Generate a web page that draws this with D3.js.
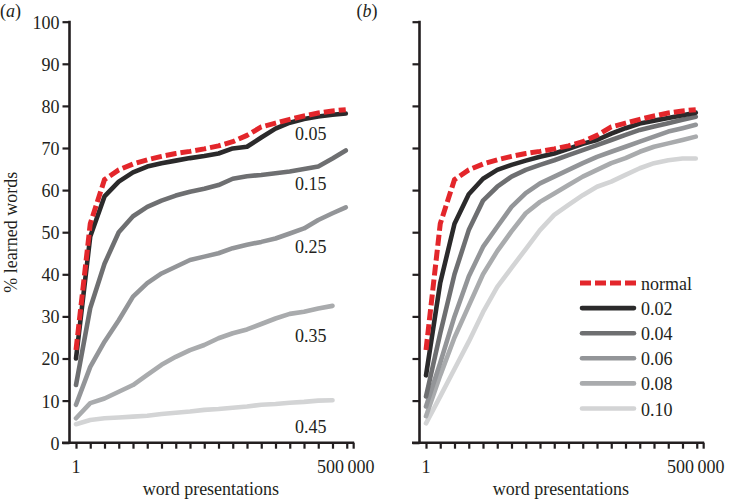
<!DOCTYPE html>
<html>
<head>
<meta charset="utf-8">
<script src="https://cdn.jsdelivr.net/npm/d3@7"></script>
<style>
  html, body { margin: 0; padding: 0; background: #fff; }
  svg { display: block; }
  svg text { font-family: "Times New Roman", "Liberation Serif", Tinos, "DejaVu Serif", "Noto Serif", serif !important; fill: #231f20; }
</style>
</head>
<body>
<svg id="chart" width="735" height="500"></svg>
<script>
// ---------------- DATA ----------------
const presentations = [1, 2, 4, 8, 16, 32, 64, 128, 256, 512, 1024, 2048, 4096, 8192,
  16384, 32768, 65536, 131072, 262144, 500000];

// panel (a): noise levels
const normalValues = [22, 52, 62.5, 64.8, 66.2, 67.2, 68, 68.7, 69.2, 69.8, 70.5, 71.5, 73, 75, 75.9, 76.8, 77.6, 78.3, 78.8, 79.1];
const a005 = [20, 49, 58.5, 62, 64.2, 65.6, 66.4, 67, 67.6, 68.1, 68.7, 69.9, 70.3, 72.5, 74.6, 76, 76.9, 77.5, 77.9, 78.2];
const a015 = [13.7, 32, 42.5, 50, 53.8, 56, 57.5, 58.7, 59.6, 60.3, 61.2, 62.7, 63.3, 63.6, 64, 64.4, 65, 65.6, 67.5, 69.4];
const a025 = [9, 18, 24, 29.1, 34.7, 37.9, 40.2, 41.8, 43.4, 44.2, 45, 46.2, 47, 47.7, 48.5, 49.7, 50.9, 52.9, 54.5, 55.9];
const a035 = [5.8, 9.4, 10.5, 12.1, 13.7, 16.1, 18.5, 20.4, 22, 23.2, 24.8, 26, 26.9, 28.2, 29.5, 30.6, 31.1, 31.9, 32.5];
const a045 = [4.4, 5.4, 5.8, 6, 6.2, 6.4, 6.8, 7.1, 7.4, 7.8, 8, 8.3, 8.6, 9, 9.2, 9.5, 9.7, 10, 10.1];
const aLabels = ["0.05", "0.15", "0.25", "0.35", "0.45"];

// panel (b)
const b002 = [16, 38, 52, 59, 62.7, 64.8, 66, 67, 67.9, 68.7, 69.8, 71, 71.9, 73.4, 74.7, 75.8, 76.5, 77.1, 77.8, 78.4];
const b004 = [11, 26, 40, 50.5, 57.5, 60.8, 63.2, 64.8, 66, 67.1, 68.3, 69.5, 70.7, 71.9, 73.1, 74.3, 75.1, 75.9, 76.7, 77.4];
const b006 = [8.6, 19, 30, 39.5, 46.5, 51.3, 56, 59.3, 61.6, 63.2, 64.8, 66.4, 67.9, 69.1, 70.3, 71.5, 72.7, 73.9, 74.7, 75.5];
const b008 = [6.3, 16, 25, 32.5, 40, 45.5, 50.2, 54.5, 57.2, 59.2, 61.2, 63.2, 64.8, 66.4, 67.6, 69.1, 70.3, 71.1, 71.9, 72.7];
const b010 = [4.6, 11, 17.5, 24, 31, 37, 41.5, 46, 50.5, 54.1, 56.5, 58.8, 60.8, 62, 63.6, 65.2, 66.4, 67.1, 67.5, 67.5];
const bLabels = ["normal", "0.02", "0.04", "0.06", "0.08", "0.10"];

const yTicks = [0, 10, 20, 30, 40, 50, 60, 70, 80, 90, 100];
const xTickLabels = [[1, "1"], [500000, "500\u2009000"]];
const yTitle = "% learned words";
const xTitle = "word presentations";

// ---------------- STYLE ----------------
const RED = "#e3262b";
const greys = ["#2b2a2b", "#6e6f71", "#939598", "#a9abad", "#d3d4d5"];
const FS = 18;
const FONT = '"Times New Roman", "Liberation Serif", Tinos, "DejaVu Serif", serif';

const svg = d3.select("#chart");
svg.append("rect").attr("width", 735).attr("height", 500).attr("fill", "#fff");

const y = d3.scaleLinear().domain([0, 100]).range([442.7, 21.7]);
const xEndExp = 19.45;

function panel(offset, series, label, showYLabels) {
  const g = svg.append("g").attr("transform", `translate(${offset},0)`);
  const axisX = 69.5;
  const x = d3.scaleLog().base(2).domain([1, Math.pow(2, xEndExp)]).range([76, 76 + 14.25 * xEndExp]);

  // lines
  const line = d3.line().x((d, i) => x(presentations[i])).y(d => y(d));
  series.slice().reverse().forEach(s => {
    g.append("path").datum(s.values).attr("d", line)
      .attr("fill", "none").attr("stroke", s.color)
      .attr("stroke-width", s.dash ? 5 : 4.6)
      .attr("stroke-linejoin", "round")
      .attr("stroke-linecap", s.dash ? "butt" : "round")
      .attr("stroke-dasharray", s.dash ? "11,4" : null);
  });

  // y axis
  const yAx = g.append("g").attr("transform", `translate(${axisX},0)`)
    .call(d3.axisLeft(y).tickValues(yTicks).tickSize(7).tickSizeOuter(0).tickPadding(3)
      .tickFormat(d => showYLabels ? d : ""));
  yAx.attr("font-family", FONT);
  yAx.select(".domain").attr("stroke", "#231f20").attr("stroke-width", 2.6)
    .attr("d", `M0,${y(100) - 1}V${y(0) + 1.2}`);
  yAx.selectAll(".tick line").attr("stroke", "#231f20").attr("stroke-width", 2.2);
  yAx.selectAll(".tick text").attr("font-size", FS)
    .attr("fill", "#231f20").attr("dy", "0.36em");

  // x axis
  const xTickVals = d3.range(0, 20).map(k => Math.pow(2, k)).concat([Math.pow(2, xEndExp)]);
  const xAx = g.append("g").attr("transform", `translate(0,${y(0)})`)
    .call(d3.axisBottom(x).tickValues(xTickVals).tickSize(6).tickSizeOuter(0).tickFormat(""));
  xAx.select(".domain").attr("stroke", "#231f20").attr("stroke-width", 2.6)
    .attr("d", `M${axisX - 7.5},0H${x(Math.pow(2, xEndExp)) + 1}`);
  xAx.selectAll(".tick line").attr("stroke", "#231f20").attr("stroke-width", 2.2);
  xTickLabels.forEach(([v, t]) => {
    g.append("text").attr("x", x(v)).attr("y", 473).attr("text-anchor", "middle")
      .attr("font-size", FS).text(t);
  });
  g.append("text").attr("x", (x(1) + x(500000)) / 2).attr("y", 495)
    .attr("text-anchor", "middle").attr("font-size", FS).text(xTitle);

  // panel letter
  const pl = g.append("text").attr("x", offset === 0 ? 0 : 6.5).attr("y", 16.5).attr("font-size", FS);
  pl.append("tspan").text("(");
  pl.append("tspan").attr("font-style", "italic").text(label);
  pl.append("tspan").text(")");
  return { g, x };
}

// ---------------- PANEL A ----------------
const seriesA = [
  { values: normalValues, color: RED, dash: true },
  { values: a005, color: greys[0] },
  { values: a015, color: greys[1] },
  { values: a025, color: greys[2] },
  { values: a035, color: greys[3] },
  { values: a045, color: greys[4] }
];
const pa = panel(0, seriesA, "a", true);
const aLabelAnchors = [71.9, 60.0, 45.1, 24.0, 2.4];
aLabels.forEach((t, i) => {
  pa.g.append("text").attr("x", pa.x(Math.pow(2, 15.37))).attr("y", y(aLabelAnchors[i]))
    .attr("font-size", FS).text(t);
});

// y title
svg.append("text").attr("transform", `translate(17,${(y(0) + y(100)) / 2}) rotate(-90)`)
  .attr("text-anchor", "middle").attr("font-size", FS).text(yTitle);

// ---------------- PANEL B ----------------
const seriesB = [
  { values: normalValues, color: RED, dash: true },
  { values: b002, color: greys[0] },
  { values: b004, color: greys[1] },
  { values: b006, color: greys[2] },
  { values: b008, color: greys[3] },
  { values: b010, color: greys[4] }
];
const pb = panel(350, seriesB, "b", false);

// legend
const leg = svg.append("g").attr("transform", "translate(580,290)");
seriesB.forEach((s, i) => {
  const row = leg.append("g").attr("transform", `translate(0,${i * 25.1})`);
  row.append("line").attr("x1", s.dash ? 0 : 2).attr("x2", s.dash ? 56 : 54)
    .attr("y1", -7).attr("y2", -7)
    .attr("stroke", s.color).attr("stroke-width", s.dash ? 5 : 4.6)
    .attr("stroke-linecap", s.dash ? "butt" : "round")
    .attr("stroke-dasharray", s.dash ? "11,4" : null);
  row.append("text").attr("x", 61).attr("y", 0).attr("font-size", FS).text(bLabels[i]);
});
</script>
</body>
</html>
